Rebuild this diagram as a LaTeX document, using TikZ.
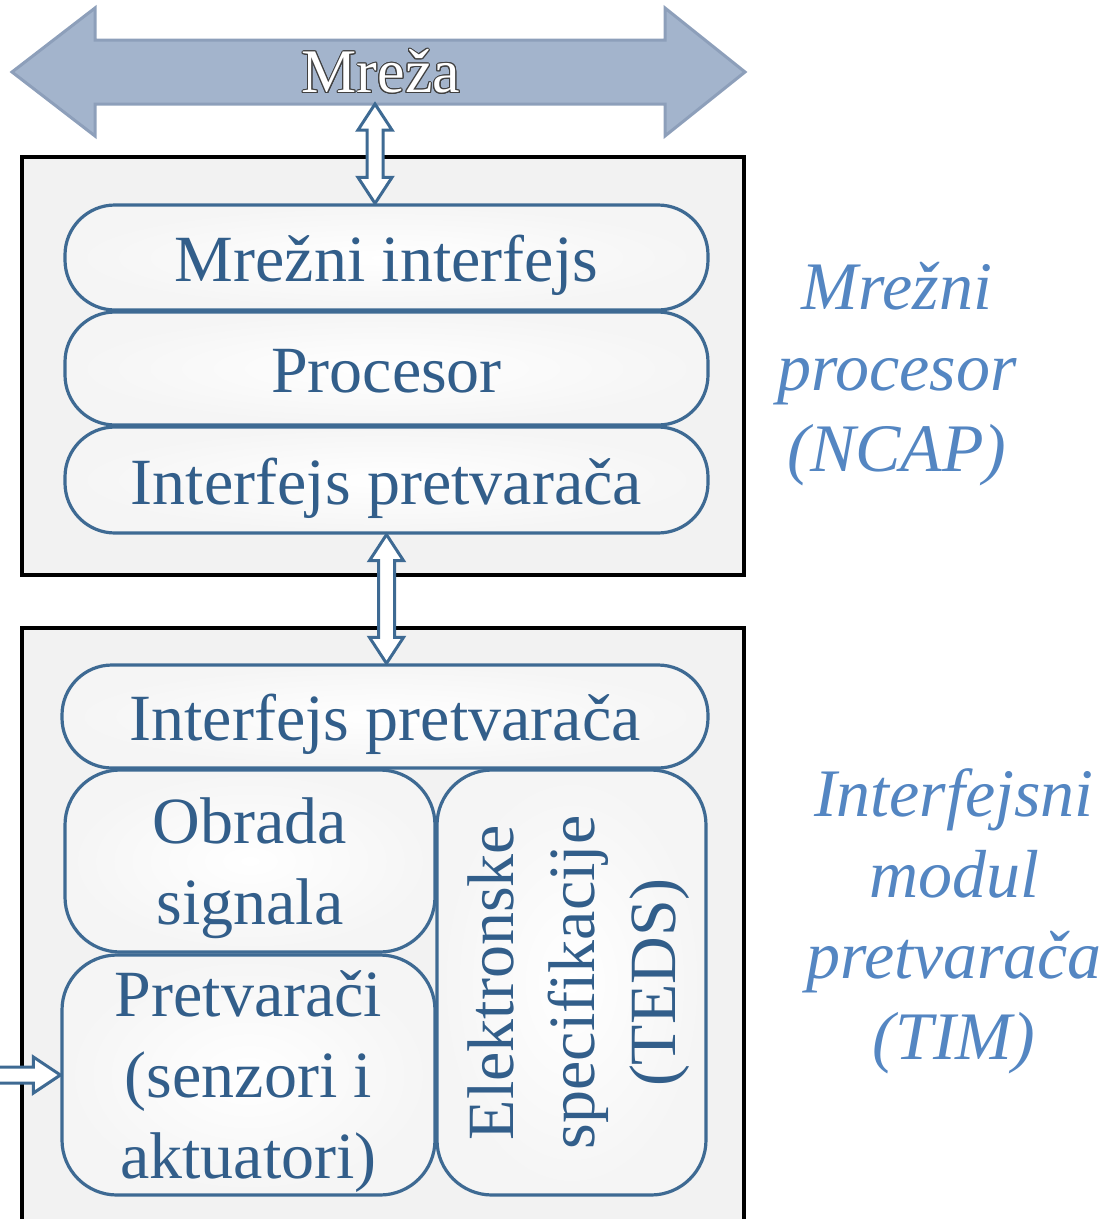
\documentclass[tikz,border=0pt]{standalone}
\usepackage{fontspec}
\setmainfont{Liberation Serif}
\usepackage[copies]{contour}
\usetikzlibrary{calc}

\definecolor{edgeblue}{RGB}{62,106,147}
\definecolor{inkblue}{RGB}{50,94,138}
\definecolor{sideblue}{RGB}{84,134,194}
\definecolor{netfill}{RGB}{163,180,204}
\definecolor{netedge}{RGB}{141,159,186}
\definecolor{panel}{RGB}{242,242,242}

\tikzset{
  frame/.style={draw=black, line width=3.5pt, fill=panel},
  netarrow/.style={fill=netfill, draw=netedge, line width=3pt, line join=miter},
  layer/.style={draw=edgeblue, line width=3.2pt, inner color=white, outer color=black!4,
    rounded corners=55pt, text=inkblue, align=center, inner sep=0pt,
    font=\fontsize{66}{81}\selectfont},
  bar/.style={layer, rounded corners=50pt, text height=60pt, text depth=12pt},
  side/.style={text=sideblue, align=center, font=\fontsize{68}{81}\selectfont\itshape},
  dblhollow/.style={draw=edgeblue, line width=3pt, fill=white, line join=miter,
    to path={-- ++(17,26) -- ++(-9,0) -- ($(\tikztotarget)+(8,-26)$) -- ++(9,0)
      -- (\tikztotarget) -- ++(-17,-26) -- ++(9,0) -- ($(\tikztostart)+(-8,26)$)
      -- ++(-9,0) -- cycle}},
  inhollow/.style={draw=edgeblue, line width=3pt, fill=white, line join=miter,
    to path={-- ++(0,-8) -- ($(\tikztotarget)+(-27,-8)$) -- ++(0,-10)
      -- (\tikztotarget) -- ++(-27,18) -- ++(0,-10) -- ($(\tikztostart)+(0,8)$) -- cycle}}
}
\contourlength{1pt}
\newcommand{\topstrut}{\rule{0pt}{60pt}}

\begin{document}
\begin{tikzpicture}[x=1pt,y=1pt,yscale=-1]
\useasboundingbox (0,0) rectangle (1115,1219);
\clip (0,0) rectangle (1115,1219);

%Shape: network arrow
\draw [netarrow] (12,72) -- (95,8) -- (95,40) -- (665,40) -- (665,8) -- (745,72) -- (665,136) -- (665,104) -- (95,104) -- (95,136) -- cycle ;
\node [text=white, font=\fontsize{62}{70}\selectfont] (net) at (381,72) {\contour{darkgray}{Mreža}};
\coordinate (netport) at (375,104);

%Shape: NCAP panel
\draw [frame] (22,157) rectangle (744,575);
%Shape: TIM panel
\draw [frame] (22,628) rectangle (744,1240);

% NCAP layers
\node [bar, minimum width=643, minimum height=105] (mi) at (386.5,257.5) {Mrežni interfejs};
\node [bar, minimum width=643, minimum height=113] (pc) at (386.5,368.5) {Procesor};
\node [bar, minimum width=643, minimum height=106] (ip1) at (386.5,480) {Interfejs pretvarača};

% TIM layers
\node [bar, minimum width=646, minimum height=103] (ip2) at (385,716.5) {Interfejs pretvarača};
\node [layer, minimum width=370, minimum height=182] (ob) at (250,861) {\topstrut Obrada\\signala};
\node [layer, minimum width=373, minimum height=240] (pr) at (248.5,1075) {\topstrut Pretvarači\\(senzori i\\aktuatori)};
\node [layer, rotate=90, minimum width=425, minimum height=269] (td) at (571.5,982.5) {\topstrut Elektronske\\specifikacije\\(TEDS)};
\coordinate (inlet) at (-6,1075);

%Straight Lines
\draw [dblhollow] (netport) to (netport |- mi.north);
\draw [dblhollow] (ip1.south) to (ip1.south |- ip2.north);
\draw [inhollow] (inlet) to (pr.west);

% Text Node
\node [side] (ncaplbl) at (897,374) {Mrežni\\procesor\\(NCAP)};
\node [side] (timlbl) at (954,921) {Interfejsni\\modul\\pretvarača\\(TIM)};

\end{tikzpicture}
\end{document}
